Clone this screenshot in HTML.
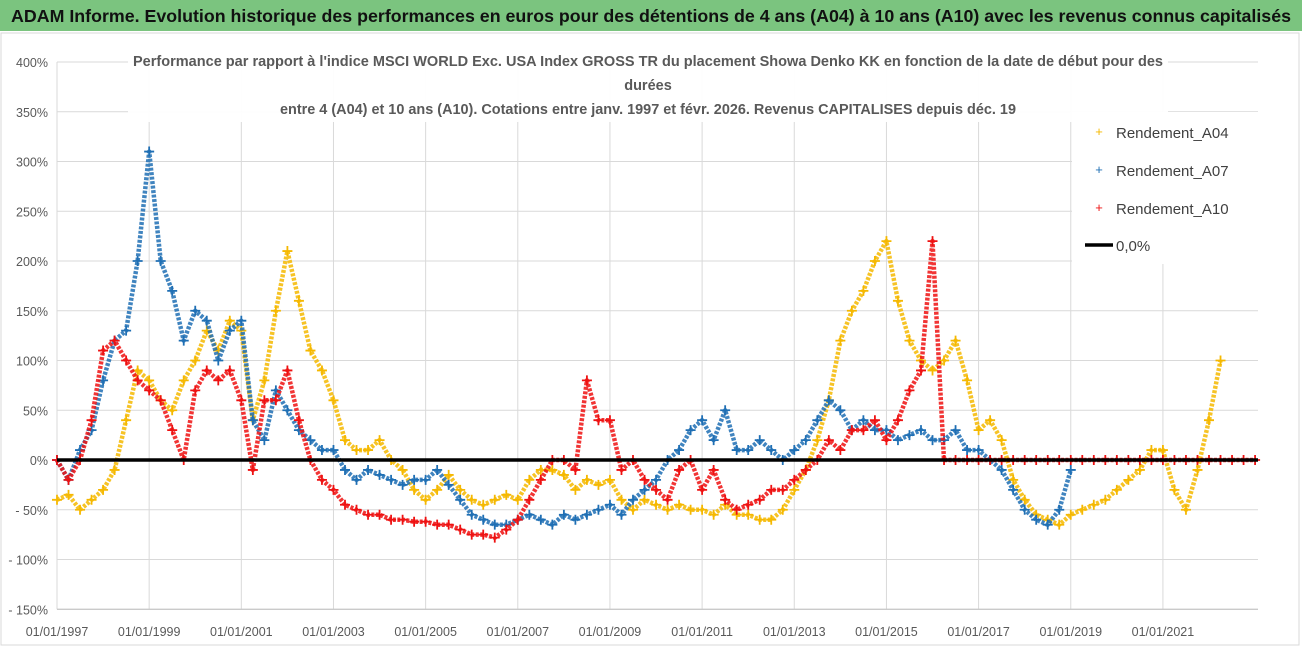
<!DOCTYPE html>
<html><head><meta charset="utf-8">
<style>
body{margin:0;width:1302px;height:647px;overflow:hidden;background:#fff;font-family:"Liberation Sans",sans-serif;}
</style></head>
<body>
<svg id="chart" width="1302" height="647" xmlns="http://www.w3.org/2000/svg" font-family="Liberation Sans, sans-serif">
<rect x="0" y="0" width="1302" height="647" fill="#fff"/>
<rect x="0" y="0" width="1302" height="31" fill="#7bc47f"/>
<text x="651" y="22" text-anchor="middle" font-size="17.5" font-weight="bold" fill="#111" textLength="1280" lengthAdjust="spacingAndGlyphs">ADAM Informe. Evolution historique des performances en euros pour des détentions de 4 ans (A04) à 10 ans (A10) avec les revenus connus capitalisés</text>
<rect x="1" y="33" width="1298" height="612" fill="none" stroke="#d9d9d9"/>
<g id="grid"></g>
<g id="series"></g>
<line id="zl" x1="57" x2="1258" y1="460" y2="460" stroke="#000" stroke-width="3.5"/>
<g id="axes"></g>
<rect x="128" y="46" width="1040" height="76" fill="#fff" opacity="0.95"/>
<g font-size="14.5" font-weight="bold" fill="#595959" text-anchor="middle">
<text x="648" y="66" textLength="1030" lengthAdjust="spacingAndGlyphs">Performance par rapport à l'indice MSCI WORLD Exc. USA Index GROSS TR  du placement Showa Denko KK en fonction de la date de début pour des</text>
<text x="648" y="90">durées</text>
<text x="648" y="114" textLength="736" lengthAdjust="spacingAndGlyphs">entre 4 (A04) et 10 ans (A10). Cotations entre janv. 1997 et févr. 2026. Revenus CAPITALISES depuis déc. 19</text>
</g>
<g>
<rect x="1072" y="112" width="190" height="152" fill="#fff"/>
<text x="1099" y="136" font-size="13" fill="#f5b800" text-anchor="middle">+</text>
<text x="1116" y="138" font-size="15" fill="#404040">Rendement_A04</text>
<text x="1099" y="174" font-size="13" fill="#1f6fb4" text-anchor="middle">+</text>
<text x="1116" y="176" font-size="15" fill="#404040">Rendement_A07</text>
<text x="1099" y="212" font-size="13" fill="#ee1111" text-anchor="middle">+</text>
<text x="1116" y="214" font-size="15" fill="#404040">Rendement_A10</text>
<line x1="1085" x2="1113" y1="245" y2="245" stroke="#000" stroke-width="3.5"/>
<text x="1116" y="251" font-size="15" fill="#404040">0,0%</text>
</g>
</svg>
<script>
const startYear = 1997;
const stepYears = 0.25;
const yTicks = [400,350,300,250,200,150,100,50,0,-50,-100,-150];
const yTickLabels = ["400%","350%","300%","250%","200%","150%","100%","50%","0%","- 50%","- 100%","- 150%"];
const xTickYears = [1997,1999,2001,2003,2005,2007,2009,2011,2013,2015,2017,2019,2021];
const xTickLabels = ["01/01/1997","01/01/1999","01/01/2001","01/01/2003","01/01/2005","01/01/2007","01/01/2009","01/01/2011","01/01/2013","01/01/2015","01/01/2017","01/01/2019","01/01/2021"];
const a04 = [-40,-35,-50,-40, -30,-10,40,90, 80,60,50,80, 100,130,110,140, 130,40,80,150, 210,160,110,90, 60,20,10,10, 20,0,-10,-30, -40,-30,-15,-30, -40,-45,-40,-35, -40,-20,-10,-10, -15,-30,-20,-25, -20,-40,-50,-40, -45,-50,-45,-50, -50,-55,-45,-55, -55,-60,-60,-50, -30,-10,20,60, 120,150,170,200, 220,160,120,100, 90,100,120,80, 30,40,20,-20, -40,-55,-60,-65, -55,-50,-45,-40, -30,-20,-10,10, 10,-30,-50,-10, 40,100];
const a07 = [0,-20,10,30, 80,120,130,200, 310,200,170,120, 150,140,100,130, 140,40,20,70, 50,30,20,10, 10,-10,-20,-10, -15,-20,-25,-20, -20,-10,-25,-40, -55,-60,-65,-65, -60,-55,-60,-65, -55,-60,-55,-50, -45,-55,-40,-30, -20,0,10,30, 40,20,50,10, 10,20,10,0, 10,20,40,60, 50,30,40,30, 30,20,25,30, 20,20,30,10, 10,0,-10,-30, -50,-60,-65,-50, -10];
const a10 = [0,-20,0,40, 110,120,100,80, 70,60,30,0, 70,90,80,90, 60,-10,60,60, 90,40,0,-20, -30,-45,-50,-55, -55,-60,-60,-62, -62,-65,-65,-70, -75,-75,-78,-70, -60,-40,-20,0, 0,-10,80,40, 40,-10,0,-20, -30,-40,-10,0, -30,-10,-40,-50, -45,-40,-30,-30, -20,-10,0,20, 10,30,30,40, 20,40,70,90, 220,0,0,0, 0,0,0,0, 0,0,0,0, 0,0,0,0, 0,0,0,0, 0,0,0,0, 0,0,0,0, 0];

const NS="http://www.w3.org/2000/svg";
const X0=57, X1=1258, PXY=46.08;
function xs(yr){return X0+(yr-startYear)*PXY;}
function ys(v){return 460-v*0.995;}
function mk(tag,attrs,parent){const e=document.createElementNS(NS,tag);for(const k in attrs)e.setAttribute(k,attrs[k]);parent.appendChild(e);return e;}
const grid=document.getElementById('grid'), axes=document.getElementById('axes'), ser=document.getElementById('series');
yTicks.forEach((t,i)=>{
  const l=mk('line',{x1:X0,x2:X1,y1:ys(t),y2:ys(t),stroke:'#d9d9d9','stroke-width':1},grid);
  
  
  const tx=mk('text',{x:48,y:ys(t)+5,'text-anchor':'end','font-size':12.5,fill:'#595959'},axes);
  tx.textContent=yTickLabels[i];
  
  
});
xTickYears.forEach((yr,i)=>{
  const l=mk('line',{x1:xs(yr),x2:xs(yr),y1:ys(400),y2:ys(-150),stroke:'#d9d9d9','stroke-width':1},grid);
  
  
  const tx=mk('text',{x:xs(yr),y:636,'text-anchor':'middle','font-size':12.5,fill:'#595959'},axes);
  tx.textContent=xTickLabels[i];
  
  
});
mk('line',{x1:X0,x2:X1,y1:ys(-150),y2:ys(-150),stroke:'#bfbfbf'},axes);
function draw(vals,color,name){
  const g=mk('g',{},ser);
  
  
  const pts=vals.map((v,i)=>xs(startYear+i*stepYears).toFixed(1)+','+ys(v).toFixed(1)).join(' ');
  mk('polyline',{points:pts,fill:'none',stroke:color,'stroke-width':4.5,'stroke-linejoin':'round','stroke-dasharray':'3 1.5',opacity:0.85},g);
  vals.forEach((v,i)=>{
    const x=xs(startYear+i*stepYears), y=ys(v);
    const p=mk('path',{d:`M${x-5},${y}h10M${x},${y-5}v10`,stroke:color,'stroke-width':1.8},g);
    
    
  });
}
draw(a04,'#f5b800','series-a04');
draw(a07,'#1f6fb4','series-a07');
draw(a10,'#ee1111','series-a10');
</script>
</body></html>
